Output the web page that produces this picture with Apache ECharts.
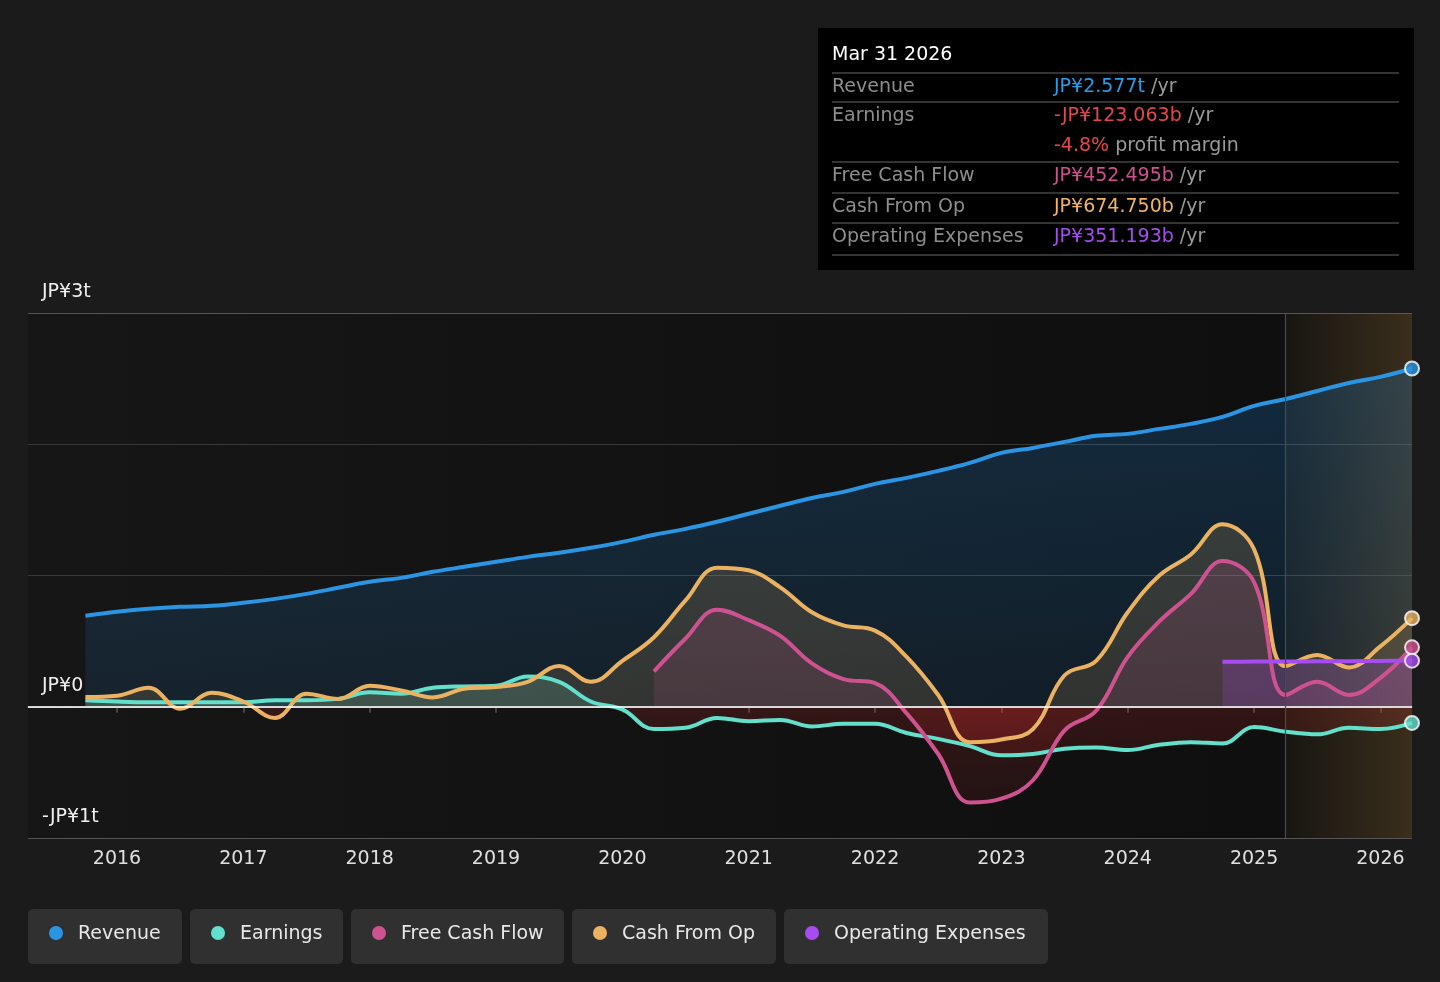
<!DOCTYPE html>
<html>
<head>
<meta charset="utf-8">
<script src="https://cdn.jsdelivr.net/npm/echarts@6/dist/echarts.min.js"></script>
<style>
html,body{margin:0;padding:0;background:#1b1b1b;}
#chart{width:1440px;height:982px;}
</style>
</head>
<body>
<div id="chart"></div>
<script>
// ---- data (JP¥ trillions) ----
const quarters = [2015.75,2016,2016.25,2016.5,2016.75,2017,2017.25,2017.5,2017.75,2018,2018.25,2018.5,2018.75,2019,2019.25,2019.5,2019.75,2020,2020.25,2020.5,2020.75,2021,2021.25,2021.5,2021.75,2022,2022.25,2022.5,2022.75,2023,2023.25,2023.5,2023.75,2024,2024.25,2024.5,2024.75,2025,2025.25,2025.5,2025.75,2026,2026.25];
const revenue = [0.693,0.723,0.746,0.761,0.769,0.792,0.822,0.860,0.906,0.952,0.982,1.028,1.066,1.104,1.142,1.173,1.211,1.256,1.310,1.355,1.409,1.470,1.531,1.591,1.637,1.698,1.744,1.797,1.858,1.934,1.972,2.018,2.064,2.079,2.117,2.155,2.208,2.292,2.345,2.406,2.467,2.513,2.577];
const earnings = [0.05,0.04,0.035,0.035,0.035,0.035,0.05,0.05,0.06,0.11,0.10,0.145,0.155,0.16,0.23,0.19,0.04,-0.02,-0.17,-0.16,-0.085,-0.11,-0.10,-0.15,-0.13,-0.13,-0.20,-0.245,-0.30,-0.37,-0.36,-0.32,-0.31,-0.33,-0.29,-0.27,-0.28,-0.155,-0.19,-0.21,-0.16,-0.17,-0.123063];
const freeCashFlow = [null,null,null,null,null,null,null,null,null,null,null,null,null,null,null,null,null,null,0.27,0.52,0.74,0.66,0.54,0.33,0.21,0.18,-0.05,-0.36,-0.73,-0.70,-0.56,-0.18,-0.03,0.38,0.65,0.86,1.11,0.95,0.09,0.19,0.09,0.22,0.452495];
const cashFromOp = [0.074,0.084,0.144,-0.015,0.106,0.04,-0.085,0.10,0.06,0.16,0.124,0.071,0.137,0.15,0.19,0.31,0.19,0.35,0.53,0.81,1.06,1.04,0.91,0.72,0.62,0.58,0.38,0.09,-0.27,-0.25,-0.17,0.24,0.35,0.72,1.0,1.16,1.39,1.2,0.31,0.395,0.30,0.46,0.67475];
const operatingExpenses = [null,null,null,null,null,null,null,null,null,null,null,null,null,null,null,null,null,null,null,null,null,null,null,null,null,null,null,null,null,null,null,null,null,null,null,null,0.343,0.344,0.345,0.346,0.347,0.349,0.351193];
const xTickYears = [2016,2017,2018,2019,2020,2021,2022,2023,2024,2025,2026];
const yTickValues = [-1,0,3];
const yTickLabels = ['-JP¥1t','JP¥0','JP¥3t'];
const forecastStart = 2025.25;
const tooltipDate = 'Mar 31 2026';

// ---- styling ----
const FONT = 'DejaVu Sans';
const C = {rev:'#2b95e3', earn:'#62e0cb', fcf:'#cf5290', cfo:'#ebb262', opex:'#a64cf0'};
const GT = 313, GB = 838, ZF = (707-313)/(838-313);

function areaGrad(posTop, posZero){
  return {type:'linear', x:0, y:GT, x2:0, y2:GB, global:true, colorStops:[
    {offset:0, color:posTop},
    {offset:ZF, color:posZero},
    {offset:ZF, color:'rgba(215,45,45,0.25)'},
    {offset:1, color:'rgba(200,40,40,0.10)'}
  ]};
}
const pairs = arr => quarters.map((q,i)=>[q,arr[i]]).filter(p=>p[1]!==null && p[1]!==undefined);
const last = arr => arr[arr.length-1];
const fmtT = v => 'JP¥' + v.toFixed(3) + 't';
const fmtB = v => (v<0?'-':'') + 'JP¥' + (Math.abs(v)*1000).toFixed(3) + 'b';

function lineSeries(name, arr, color, fillTop, fillZero){
  return {
    name, type:'line', data:pairs(arr), smooth:0.4, symbol:'none',
    lineStyle:{color, width:4}, itemStyle:{color},
    areaStyle:{color:areaGrad(fillTop, fillZero), origin:0},
    z:2
  };
}

const chart = echarts.init(document.getElementById('chart'), null, {renderer:'canvas'});

const series = [
  Object.assign(lineSeries('Revenue', revenue, C.rev, 'rgba(33,150,243,0.32)', 'rgba(33,150,243,0.15)'), {
    markLine:{silent:true, symbol:'none', label:{show:false}, lineStyle:{color:'#ffffff', width:1.6, type:'solid'}, data:[{yAxis:0}]}
  }),
  lineSeries('Earnings', earnings, C.earn, 'rgba(98,224,203,0.28)', 'rgba(98,224,203,0.24)'),
  lineSeries('Cash From Op', cashFromOp, C.cfo, 'rgba(235,178,98,0.30)', 'rgba(235,178,98,0.20)'),
  lineSeries('Free Cash Flow', freeCashFlow, C.fcf, 'rgba(207,82,144,0.32)', 'rgba(207,82,144,0.20)'),
  lineSeries('Operating Expenses', operatingExpenses, C.opex, 'rgba(166,76,240,0.38)', 'rgba(166,76,240,0.28)'),
  {
    name:'forecast', type:'line', data:[], z:3, silent:true,
    markArea:{silent:true, itemStyle:{color:{type:'linear', x:0, y:0, x2:1, y2:0, colorStops:[
      {offset:0, color:'rgba(110,85,45,0.10)'}, {offset:1, color:'rgba(120,92,48,0.42)'}]}},
      data:[[{xAxis:forecastStart},{xAxis:last(quarters)}]]},
    markLine:{silent:true, symbol:'none', label:{show:false}, lineStyle:{color:'#4a4a4a', width:1.2, type:'solid'}, data:[{xAxis:forecastStart}]}
  },
  {
    name:'ends', type:'scatter', z:5, clip:false, silent:true, symbolSize:14,
    data:[
      {value:[last(quarters), last(revenue)], itemStyle:{color:C.rev}},
      {value:[last(quarters), last(cashFromOp)], itemStyle:{color:C.cfo}},
      {value:[last(quarters), last(freeCashFlow)], itemStyle:{color:C.fcf}},
      {value:[last(quarters), last(operatingExpenses)], itemStyle:{color:C.opex}},
      {value:[last(quarters), last(earnings)], itemStyle:{color:C.earn}}
    ],
    itemStyle:{borderColor:'#ffffff', borderWidth:2}
  }
];

// ---- tooltip panel + legend as graphics ----
const TX = 818, TY = 28, TW = 596, TH = 242;
const labelCol = '#8e8e8e', unitCol = '#9a9a9a';
const rows = [
  {label:'Revenue', y:87, text:'{v|'+fmtT(last(revenue))+'} {u|/yr}', col:'#2a9de8'},
  {label:'Earnings', y:116, text:'{v|'+fmtB(last(earnings))+'} {u|/yr}', col:'#e5484a'},
  {label:'', y:146, text:'{v|'+(last(earnings)/last(revenue)*100).toFixed(1)+'%} {u|profit margin}', col:'#e5484a'},
  {label:'Free Cash Flow', y:176, text:'{v|'+fmtB(last(freeCashFlow))+'} {u|/yr}', col:'#d0518f'},
  {label:'Cash From Op', y:207, text:'{v|'+fmtB(last(cashFromOp))+'} {u|/yr}', col:'#f0b464'},
  {label:'Operating Expenses', y:237, text:'{v|'+fmtB(last(operatingExpenses))+'} {u|/yr}', col:'#a54ff0'}
];
const sepYs = [73,102,162,193,223,255];
const graphics = [
  {type:'rect', shape:{x:TX, y:TY, width:TW, height:TH}, style:{fill:'#000000'}, z:10},
  {type:'text', x:832, y:55, style:{text:tooltipDate, font:'19px "'+FONT+'"', fill:'#ffffff', verticalAlign:'middle', textVerticalAlign:'middle'}, z:11}
];
sepYs.forEach(y=>graphics.push({type:'line', shape:{x1:832, y1:y, x2:1399, y2:y}, style:{stroke:'#444444', lineWidth:1.5}, z:11}));
rows.forEach(r=>{
  if(r.label) graphics.push({type:'text', x:832, y:r.y, style:{text:r.label, font:'19px "'+FONT+'"', fill:labelCol, verticalAlign:'middle', textVerticalAlign:'middle'}, z:11});
  graphics.push({type:'text', x:1054, y:r.y, style:{text:r.text, font:'19px "'+FONT+'"', fill:unitCol, verticalAlign:'middle', textVerticalAlign:'middle',
    rich:{v:{fill:r.col, font:'19px "'+FONT+'"'}, u:{fill:unitCol, font:'19px "'+FONT+'"'}}}, z:11});
});
const legendItems = [
  {name:'Revenue', col:C.rev, x:28, w:154},
  {name:'Earnings', col:C.earn, x:190, w:153},
  {name:'Free Cash Flow', col:C.fcf, x:351, w:213},
  {name:'Cash From Op', col:C.cfo, x:572, w:204},
  {name:'Operating Expenses', col:C.opex, x:784, w:264}
];
legendItems.forEach(it=>{
  graphics.push({type:'rect', shape:{x:it.x, y:909, width:it.w, height:55, r:5}, style:{fill:'#303030'}, z:10});
  graphics.push({type:'circle', shape:{cx:it.x+28, cy:933, r:7}, style:{fill:it.col}, z:11});
  graphics.push({type:'text', x:it.x+50, y:934, style:{text:it.name, font:'19px "'+FONT+'"', fill:'#e8e8e8', verticalAlign:'middle', textVerticalAlign:'middle'}, z:11});
});

chart.setOption({
  backgroundColor:'#1b1b1b',
  animation:false,
  textStyle:{fontFamily:FONT},
  grid:{left:28, right:28, top:GT, bottom:982-GB, show:true, borderWidth:0,
    backgroundColor:{type:'linear', x:0, y:0, x2:1, y2:0, colorStops:[{offset:0,color:'#161616'},{offset:1,color:'#0e0e0e'}]}},
  xAxis:{
    type:'value', min:2015.2956, max:last(quarters),
    axisLine:{show:true, lineStyle:{color:'#555555', width:1.5}},
    axisTick:{show:true, customValues:xTickYears, length:6, lineStyle:{color:'#555555', width:1.5}},
    axisLabel:{customValues:xTickYears, color:'#e0e0e0', fontSize:19, fontFamily:FONT, margin:12, formatter:v=>String(Math.round(v))},
    splitLine:{show:false}
  },
  yAxis:{
    type:'value', min:-1, max:3, interval:1,
    axisLine:{show:false}, axisTick:{show:false},
    axisLabel:{inside:true, customValues:yTickValues, margin:14, color:'#f0f0f0', fontSize:19, fontFamily:FONT,
      verticalAlign:'bottom', padding:[0,0,11,0],
      formatter:v=>{const i=yTickValues.indexOf(Math.round(v)); return i>=0?yTickLabels[i]:'';}},
    splitLine:{show:true, lineStyle:{color:['#555555','#ffffff','#383838','#383838','#555555'], width:1.2}}
  },
  series,
  graphic:graphics
});
</script>
</body>
</html>
